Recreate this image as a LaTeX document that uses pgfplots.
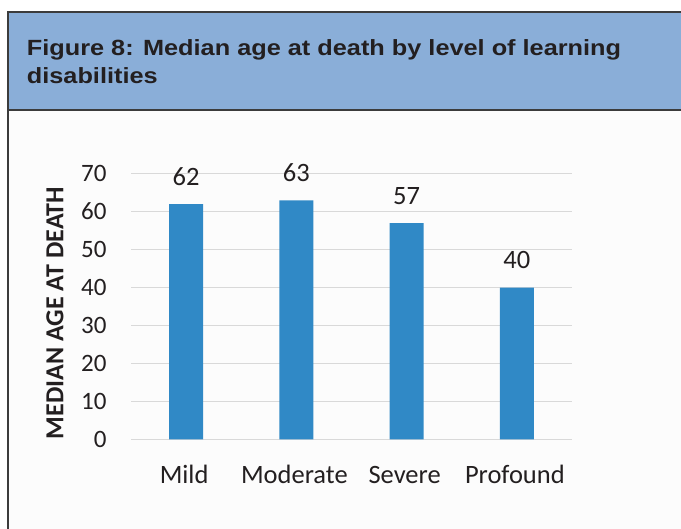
\documentclass[border=0pt]{standalone}
\usepackage{pgfplots}
\pgfplotsset{compat=1.18}
\usepackage{fontspec}
\setmainfont{Carlito}
\newfontfamily\titlefont[FakeStretch=1.15]{Liberation Sans}
\definecolor{hdr}{RGB}{138,174,216}
\definecolor{barc}{RGB}{48,137,198}
\definecolor{gridc}{RGB}{217,217,217}
\definecolor{txt}{RGB}{35,31,32}
\definecolor{border}{RGB}{60,60,60}
\definecolor{bgc}{RGB}{252,252,252}
\begin{document}
\begin{tikzpicture}
\useasboundingbox (0,0) rectangle (681bp,529bp);
\fill[white] (0,0) rectangle (681bp,529bp);
\fill[bgc] (8bp,0) rectangle (681bp,419bp);
\fill[hdr] (8bp,419bp) rectangle (681bp,517bp);
\draw[line width=1.2bp, border] (681bp,517bp) -- (8bp,517bp) -- (8bp,0);
\draw[line width=1.2bp, border] (8bp,419bp) -- (681bp,419bp);
\node[anchor=base west, inner sep=0, font=\titlefont\bfseries\fontsize{22bp}{27.6bp}\selectfont, text=txt] at (26.7bp,473.3bp) {Figure 8: Median age at death by level of learning};
\node[anchor=base west, inner sep=0, font=\titlefont\bfseries\fontsize{22bp}{27.6bp}\selectfont, text=txt] at (26.7bp,445.7bp) {disabilities};
\begin{axis}[
  at={(131bp,89.7bp)}, anchor=south west,
  scale only axis, width=441bp, height=265.6bp,
  xmin=-0.5, xmax=3.5, ymin=0, ymax=70,
  ytick={0,10,20,30,40,50,60,70},
  xtick={0,1,2,3},
  xticklabels={Mild,Moderate,Severe,Profound},
  axis line style={draw=none},
  major tick length=0pt,
  ymajorgrids,
  grid style={gridc, line width=1.5bp},
  ybar, bar width=34bp,
  clip=false,
  /pgf/number format/assume math mode=true,
  yticklabel style={font=\fontsize{25bp}{25bp}\selectfont, text=txt, anchor=east, inner sep=0pt, xshift=-24.3bp},
  xticklabel style={font=\fontsize{26.5bp}{26.5bp}\selectfont, text=txt, anchor=base, inner sep=0pt, yshift=-43.7bp, xshift=-2bp},
  ylabel={MEDIAN AGE AT DEATH},
  ylabel style={at={(axis description cs:-0.1723,0.4755)}, anchor=center, rotate=0, font=\bfseries\fontsize{26bp}{26bp}\selectfont, text=txt},
  nodes near coords,
  every node near coord/.append style={font=\fontsize{26.5bp}{26.5bp}\selectfont, text=txt, anchor=base, inner sep=0pt, yshift=18.8bp},
]
\addplot[fill=barc, draw=none] coordinates {(0,62) (1,63) (2,57) (3,40)};
\end{axis}
\end{tikzpicture}
\end{document}
